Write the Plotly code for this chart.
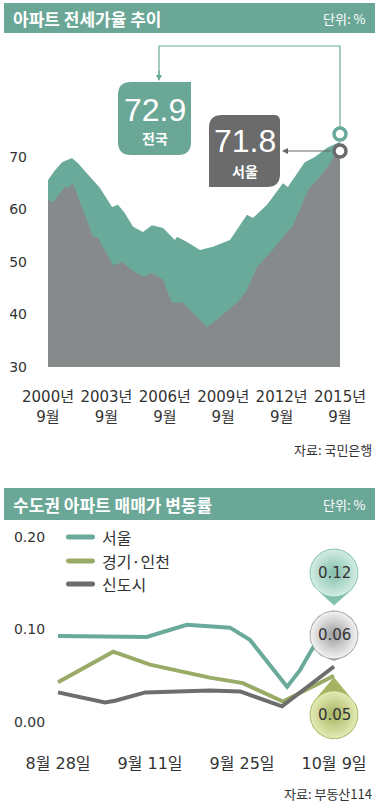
import math
import plotly.graph_objects as go

# ---------------- data ----------------
# Top chart: 아파트 전세가율 추이 (decimal year, %)
years_nat = [2000.67, 2001.03, 2001.39, 2001.9, 2002.21, 2002.83, 2003.34, 2003.96, 2004.27,
             2004.62, 2005.04, 2005.55, 2006.01, 2006.58, 2007.19, 2007.3, 2007.81, 2008.48,
             2009.14, 2010.02, 2010.89, 2011.2, 2011.92, 2012.74, 2012.99, 2013.86, 2014.38,
             2014.99, 2015.67]
jeonse_national = [65.6, 67.5, 69.0, 69.8, 68.8, 66.2, 64.1, 60.5, 60.9,
                   59.3, 56.7, 55.7, 57.0, 56.5, 54.2, 54.8, 53.8, 52.3,
                   52.9, 54.2, 59.0, 58.4, 60.9, 65.0, 64.3, 69.0, 70.0,
                   71.7, 72.9]
years_seoul = [2000.67, 2000.93, 2001.54, 2001.7, 2001.95, 2002.47, 2002.98, 2003.24, 2004.01,
               2004.47, 2004.98, 2005.55, 2006.01, 2006.58, 2007.04, 2007.55, 2008.32, 2008.84,
               2009.5, 2010.53, 2010.89, 2011.4, 2012.07, 2012.74, 2013.25, 2013.71, 2014.02,
               2014.64, 2015.15, 2015.67]
jeonse_seoul = [61.8, 61.4, 64.3, 64.1, 65.0, 59.9, 54.8, 54.6, 49.4,
                50.0, 48.5, 47.2, 47.9, 46.6, 42.2, 42.4, 39.5, 37.6,
                39.5, 42.8, 44.7, 49.0, 51.7, 54.8, 57.0, 60.9, 63.7,
                66.2, 68.8, 71.8]
top_tickvals = [2000.67, 2003.67, 2006.67, 2009.67, 2012.67, 2015.67]
top_ticktext = ["2000년<br>9월", "2003년<br>9월", "2006년<br>9월",
                "2009년<br>9월", "2012년<br>9월", "2015년<br>9월"]

# Bottom chart: 수도권 아파트 매매가 변동률 (weeks since 8/28, %)
wk_seoul = [0, 1.93, 2.8, 3.74, 4.17, 4.98, 5.26, 5.54, 6]
chg_seoul = [0.093, 0.092, 0.105, 0.102, 0.089, 0.038, 0.056, 0.081, 0.12]
wk_gyeonggi = [0, 0.96, 1.2, 2.0, 3.3, 4.02, 4.89, 6]
chg_gyeonggi = [0.043, 0.070, 0.076, 0.062, 0.048, 0.042, 0.022, 0.05]
wk_newtown = [0, 1.02, 1.24, 1.9, 3.3, 3.96, 4.87, 6]
chg_newtown = [0.032, 0.021, 0.023, 0.032, 0.034, 0.033, 0.017, 0.06]
bottom_tickvals = [0, 2, 4, 6]
bottom_ticktext = ["8월 28일", "9월 11일", "9월 25일", "10월 9일"]
bottom_ytickvals = [0, 0.1, 0.2]
bottom_yticktext = ["0.00", "0.10", "0.20"]

# ---------------- style ----------------
W, H = 383, 808
TEAL = "#6aaa9a"
TEAL_BAR = "#6ba797"
GRAY_AREA = "#868a8a"
GRAY_BOX = "#6b6b6b"
OLIVE = "#9aab68"
LINE_GRAY = "#6d6d6d"
TXT = "#333333"
FONT = "DejaVu Sans, Noto Sans CJK KR, sans-serif"
KFONT = "Noto Sans CJK KR, DejaVu Sans, sans-serif"
BIG = "Liberation Sans Narrow, Liberation Sans, sans-serif"


def px(x):
    return x / W


def py(y):
    return 1 - y / H


def pt(x, y):
    return f"{px(x):.5f},{py(y):.5f}"


def rrect(x0, y0, x1, y1, tl, tr, br, bl):
    s = f"M {pt(x0 + tl, y0)} L {pt(x1 - tr, y0)} "
    s += f"Q {pt(x1, y0)} {pt(x1, y0 + tr)} L {pt(x1, y1 - br)} "
    s += f"Q {pt(x1, y1)} {pt(x1 - br, y1)} L {pt(x0 + bl, y1)} "
    s += f"Q {pt(x0, y1)} {pt(x0, y1 - bl)} L {pt(x0, y0 + tl)} "
    s += f"Q {pt(x0, y0)} {pt(x0 + tl, y0)} Z"
    return s


fig = go.Figure()
shapes = []
ann = []

# ---- top chart ----
fig.add_trace(go.Scatter(x=years_nat, y=jeonse_national, mode="lines", fill="tozeroy",
                         fillcolor=TEAL, line=dict(width=0, color=TEAL),
                         xaxis="x", yaxis="y", showlegend=False, hoverinfo="skip"))
fig.add_trace(go.Scatter(x=years_seoul, y=jeonse_seoul, mode="lines", fill="tozeroy",
                         fillcolor=GRAY_AREA, line=dict(width=0, color=GRAY_AREA),
                         xaxis="x", yaxis="y", showlegend=False, hoverinfo="skip"))

# ---- bottom chart ----
XR2 = [-0.15, 6.6]
YR2 = [-0.03, 0.21]
X0PX, PXW = 58, 46.0   # pixel of week 0, px per week
Y0PX, PXV = 722, 925.0  # pixel of 0.00, px per unit


def to_data(xp, yp):
    return (xp - X0PX) / PXW, (Y0PX - yp) / PXV


for xs, ys, col in [(wk_seoul, chg_seoul, TEAL), (wk_gyeonggi, chg_gyeonggi, OLIVE),
                    (wk_newtown, chg_newtown, LINE_GRAY)]:
    fig.add_trace(go.Scatter(x=xs, y=ys, mode="lines", line=dict(width=4, color=col),
                             xaxis="x2", yaxis="y2", showlegend=False, hoverinfo="skip"))


def bubble(value, x_end, offset_px, r, edge, center, label):
    ex = X0PX + x_end * PXW
    ey = Y0PX - value * PXV
    cx, cy = ex, ey + offset_px
    tip_y = ey + (-6 if offset_px < 0 else 2)
    d = abs(cy - tip_y)
    ang_dir = math.atan2(tip_y - cy, 0)
    a = math.acos(min(r / d, 0.999))
    pts = [(ex, tip_y)]
    n = 60
    start = ang_dir + a
    end = ang_dir + 2 * math.pi - a
    for i in range(n + 1):
        t = start + (end - start) * i / n
        pts.append((cx + r * math.cos(t), cy + r * math.sin(t)))
    pts.append((ex, tip_y))
    dx, dy = zip(*[to_data(p[0], p[1]) for p in pts])
    fig.add_trace(go.Scatter(x=list(dx), y=list(dy), mode="lines", fill="toself",
                             fillcolor=edge, line=dict(width=0.8, color=edge),
                             xaxis="x2", yaxis="y2", showlegend=False, hoverinfo="skip"))
    mx, my = to_data(cx, cy)
    fig.add_trace(go.Scatter(x=[mx], y=[my], mode="markers", cliponaxis=False,
                             marker=dict(size=2 * r - 1, color=center,
                                         gradient=dict(type="radial", color=edge),
                                         line=dict(width=0)),
                             xaxis="x2", yaxis="y2", showlegend=False, hoverinfo="skip"))
    ann.append(dict(xref="paper", yref="paper", x=px(cx), y=py(cy), text=label,
                    showarrow=False, font=dict(family=FONT, size=15, color=TXT),
                    xanchor="center", yanchor="middle"))


bubble(chg_seoul[-1], wk_seoul[-1], -38, 24, "#82bfac", "#d2ece2", f"{chg_seoul[-1]:.2f}")
bubble(chg_newtown[-1], wk_newtown[-1], -31.5, 24, "#9c9c9c", "#f2f2f2", f"{chg_newtown[-1]:.2f}")
bubble(chg_gyeonggi[-1], wk_gyeonggi[-1], 39, 24, "#a5b460", "#e4eab4", f"{chg_gyeonggi[-1]:.2f}")

# title bars
for (y0, y1, title) in [(3, 33, "아파트 전세가율 추이"), (488, 520, "수도권 아파트 매매가 변동률")]:
    shapes.append(dict(type="rect", xref="paper", yref="paper", x0=px(4), x1=px(375),
                       y0=py(y1), y1=py(y0), fillcolor=TEAL_BAR, line=dict(width=0), layer="below"))
    ann.append(dict(xref="paper", yref="paper", x=px(11), y=py((y0 + y1) / 2), text=title,
                    showarrow=False, xanchor="left", yanchor="middle",
                    font=dict(family=KFONT, size=17, color="white", weight="bold")))
    ann.append(dict(xref="paper", yref="paper", x=px(367), y=py((y0 + y1) / 2), text="단위: %",
                    showarrow=False, xanchor="right", yanchor="middle",
                    font=dict(family=KFONT, size=13, color="white")))

# sources
ann.append(dict(xref="paper", yref="paper", x=px(374), y=py(449), text="자료: 국민은행",
                showarrow=False, xanchor="right", yanchor="middle",
                font=dict(family=KFONT, size=13, color=TXT)))
ann.append(dict(xref="paper", yref="paper", x=px(374), y=py(793), text="자료: 부동산114",
                showarrow=False, xanchor="right", yanchor="middle",
                font=dict(family=KFONT, size=13, color=TXT)))

# top callout boxes
shapes.append(dict(type="path", xref="paper", yref="paper",
                   path=rrect(118, 82, 191, 155, 13, 0, 13, 13),
                   fillcolor=TEAL_BAR, line=dict(width=0), layer="above"))
shapes.append(dict(type="path", xref="paper", yref="paper",
                   path=rrect(209, 115, 280, 187, 13, 6, 13, 0),
                   fillcolor=GRAY_BOX, line=dict(width=0), layer="above"))
ann.append(dict(xref="paper", yref="paper", x=px(154.5), y=py(110), text=f"{jeonse_national[-1]:.1f}",
                showarrow=False, xanchor="center", yanchor="middle",
                font=dict(family=BIG, size=32, color="white")))
ann.append(dict(xref="paper", yref="paper", x=px(154.5), y=py(138), text="전국",
                showarrow=False, xanchor="center", yanchor="middle",
                font=dict(family=KFONT, size=14, color="white", weight="bold")))
ann.append(dict(xref="paper", yref="paper", x=px(244.5), y=py(141), text=f"{jeonse_seoul[-1]:.1f}",
                showarrow=False, xanchor="center", yanchor="middle",
                font=dict(family=BIG, size=32, color="white")))
ann.append(dict(xref="paper", yref="paper", x=px(244.5), y=py(171), text="서울",
                showarrow=False, xanchor="center", yanchor="middle",
                font=dict(family=KFONT, size=14, color="white", weight="bold")))

# connector from national ring to box
shapes.append(dict(type="path", xref="paper", yref="paper",
                   path=f"M {pt(340, 127)} L {pt(340, 46)} L {pt(159, 46)} L {pt(159, 78)}",
                   line=dict(color=TEAL, width=1.2), layer="above"))
ann.append(dict(xref="paper", yref="paper", x=px(159), y=py(81), ax=0, ay=-12, text="",
                showarrow=True, arrowhead=2, arrowsize=1, arrowwidth=1.2, arrowcolor=TEAL))
# connector from Seoul ring to box
ann.append(dict(xref="paper", yref="paper", x=px(282), y=py(151), ax=50, ay=0, text="",
                showarrow=True, arrowhead=2, arrowsize=1, arrowwidth=1.2, arrowcolor="#666666"))

# rings
for (cy, col) in [(134, TEAL), (151, GRAY_BOX)]:
    shapes.append(dict(type="circle", xref="paper", yref="paper",
                       x0=px(334), x1=px(346), y0=py(cy + 6), y1=py(cy - 6),
                       fillcolor="white", line=dict(color=col, width=3.5), layer="above"))

# bottom legend
for (yy, col, name) in [(537, TEAL, "서울"), (561, OLIVE, "경기·인천"), (584, LINE_GRAY, "신도시")]:
    shapes.append(dict(type="path", xref="paper", yref="paper",
                       path=rrect(66, yy - 2.5, 95, yy + 2.5, 2.5, 2.5, 2.5, 2.5),
                       fillcolor=col, line=dict(width=0), layer="above"))
    ann.append(dict(xref="paper", yref="paper", x=px(100), y=py(yy), text=name,
                    showarrow=False, xanchor="left", yanchor="middle",
                    font=dict(family=KFONT, size=16, color=TXT)))

axis_common = dict(showgrid=False, zeroline=False, showline=False, ticks="", automargin=False)

x2_left = X0PX + XR2[0] * PXW
x2_right = X0PX + XR2[1] * PXW
y2_bottom = Y0PX - YR2[0] * PXV
y2_top = Y0PX - YR2[1] * PXV

fig.update_layout(
    width=W, height=H, autosize=False,
    margin=dict(l=0, r=0, t=0, b=0, pad=0, autoexpand=False),
    paper_bgcolor="white", plot_bgcolor="white",
    showlegend=False, hovermode=False,
    xaxis=dict(domain=[px(48), px(340)], range=[2000.67, 2015.67], tickvals=top_tickvals,
               ticktext=top_ticktext, ticklabelstandoff=19, tickangle=0,
               tickfont=dict(family=FONT, size=15, color=TXT), **axis_common),
    yaxis=dict(domain=[py(367), py(104.5)], range=[30, 80], tickvals=[30, 40, 50, 60, 70],
               ticklabelstandoff=20, tickfont=dict(family=FONT, size=14, color=TXT), **axis_common),
    xaxis2=dict(domain=[px(x2_left), px(x2_right)], range=XR2, tickvals=bottom_tickvals,
                ticktext=bottom_ticktext, ticklabelstandoff=2, anchor="y2", tickangle=0,
                tickfont=dict(family=FONT, size=16, color=TXT), **axis_common),
    yaxis2=dict(domain=[py(y2_bottom), py(y2_top)], range=YR2, tickvals=bottom_ytickvals,
                ticktext=bottom_yticktext, ticklabelstandoff=5, anchor="x2",
                tickfont=dict(family=FONT, size=14, color=TXT), **axis_common),
)
fig.layout.shapes = shapes
fig.layout.annotations = ann

fig.write_html("out.html", config={"displayModeBar": False, "staticPlot": True},
               post_script="document.body.style.margin='0';document.body.style.overflow='hidden';")
